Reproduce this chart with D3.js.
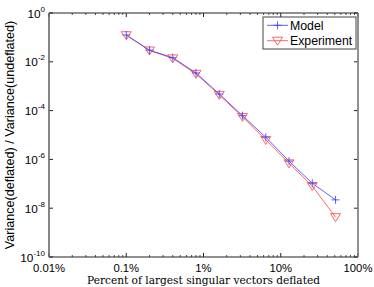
<!DOCTYPE html>
<html>
<head>
<meta charset="utf-8">
<script src="https://cdn.jsdelivr.net/npm/d3@7"></script>
<style>
  body { margin: 0; background: white; }
  svg { display: block; }
</style>
</head>
<body>
<div id="container"></div>
<script>
// fraction of singular vectors deflated (0.1% .. 51.2%)
const fractions = [0.001, 0.002, 0.004, 0.008, 0.016, 0.032, 0.064, 0.128, 0.256, 0.512]
const model = [0.126, 0.030, 0.0148, 3.5e-3, 4.8e-4, 6.2e-5, 8.1e-6, 8.5e-7, 1.05e-7, 2.2e-8]
const experiment = [0.123, 0.029, 0.0138, 3.2e-3, 4.4e-4, 5.5e-5, 6.3e-6, 6.9e-7, 8.1e-8, 4.3e-9]
const xTicks = [1e-4, 1e-3, 1e-2, 1e-1, 1]
const xTickLabels = ["0.01%", "0.1%", "1%", "10%", "100%"]
const yTicks = [1, 1e-2, 1e-4, 1e-6, 1e-8, 1e-10]
const yTickExps = ["0", "-2", "-4", "-6", "-8", "-10"]

const w = 374
const h = 287
const m = { left: 49, right: 16, top: 13, bottom: 30 }

const svg = d3.select("#container")
    .append("svg")
    .attr("width", w)
    .attr("height", h)
    .style("font-family", "'Liberation Sans', Arial, sans-serif")

const xScale = d3.scaleLog()
    .domain([1e-4, 1])
    .range([m.left, w - m.right])
const yScale = d3.scaleLog()
    .domain([1e-10, 1])
    .range([h - m.bottom, m.top])

// minor ticks for x (2..9 in each decade)
const xMinor = []
for (let e = -4; e < 0; e++) {
    for (let k = 2; k <= 9; k++) xMinor.push(k * Math.pow(10, e))
}

const x0 = xScale.range()[0], x1 = xScale.range()[1]
const y0 = yScale.range()[0], y1 = yScale.range()[1]

const axes = svg.append("g").attr("stroke", "#222").attr("fill", "none")
// ticks bottom & top
xTicks.forEach((t) => {
    axes.append("line").attr("x1", xScale(t)).attr("x2", xScale(t)).attr("y1", y0).attr("y2", y0 - 4)
    axes.append("line").attr("x1", xScale(t)).attr("x2", xScale(t)).attr("y1", y1).attr("y2", y1 + 4)
})
xMinor.forEach((t) => {
    axes.append("line").attr("x1", xScale(t)).attr("x2", xScale(t)).attr("y1", y0).attr("y2", y0 - 2)
        .attr("stroke-width", 0.8)
    axes.append("line").attr("x1", xScale(t)).attr("x2", xScale(t)).attr("y1", y1).attr("y2", y1 + 2)
        .attr("stroke-width", 0.8)
})
yTicks.forEach((t) => {
    axes.append("line").attr("x1", x0).attr("x2", x0 + 4).attr("y1", yScale(t)).attr("y2", yScale(t))
    axes.append("line").attr("x1", x1).attr("x2", x1 - 4).attr("y1", yScale(t)).attr("y2", yScale(t))
})
// box
axes.append("line").attr("x1", x0).attr("x2", x1).attr("y1", y1).attr("y2", y1).attr("stroke-width", 1)
axes.append("line").attr("x1", x0).attr("x2", x1).attr("y1", y0).attr("y2", y0).attr("stroke-width", 1.2)
axes.append("line").attr("x1", x0).attr("x2", x0).attr("y1", y1).attr("y2", y0)
    .attr("stroke", "#666").attr("stroke-width", 1.6)
axes.append("line").attr("x1", x1).attr("x2", x1).attr("y1", y1).attr("y2", y0)
    .attr("stroke", "#777").attr("stroke-width", 1.6)

// tick labels
svg.append("g").selectAll("text")
    .data(xTicks)
    .enter()
    .append("text")
    .attr("x", (d) => xScale(d))
    .attr("y", y0 + 15)
    .attr("text-anchor", "middle")
    .style("font-size", "11.3px")
    .text((d, i) => xTickLabels[i])

const yl = svg.append("g").selectAll("text")
    .data(yTicks)
    .enter()
    .append("text")
    .attr("x", x0 - 4)
    .attr("y", (d) => yScale(d) + 4.5)
    .attr("text-anchor", "end")
    .style("font-size", "11.8px")
yl.append("tspan").text("10")
yl.append("tspan").attr("dy", -6).style("font-size", "8px").text((d, i) => yTickExps[i])

// axis titles
svg.append("text")
    .attr("x", (x0 + x1) / 2)
    .attr("y", h - 3.5)
    .attr("text-anchor", "middle")
    .style("font-family", "'DejaVu Serif', 'Liberation Serif', serif")
    .style("font-size", "10.6px")
    .text("Percent of largest singular vectors deflated")

svg.append("text")
    .attr("transform", `translate(14, ${(y0 + y1) / 2}) rotate(-90)`)
    .attr("text-anchor", "middle")
    .style("font-size", "12.6px")
    .text("Variance(deflated) / Variance(undeflated)")

// series
const line = d3.line()
    .x((d) => xScale(d[0]))
    .y((d) => yScale(d[1]))

const modelPts = fractions.map((f, i) => [f, model[i]])
const expPts = fractions.map((f, i) => [f, experiment[i]])

const blue = "#3a3aff"
const red = "#ff4040"

svg.append("path").datum(expPts).attr("d", line)
    .attr("fill", "none").attr("stroke", red).attr("stroke-width", 0.8)
svg.append("path").datum(modelPts).attr("d", line)
    .attr("fill", "none").attr("stroke", blue).attr("stroke-width", 0.8)

const tri = "M-5,-3.5 L5,-3.5 L0,4.5 Z"
svg.selectAll(".tri")
    .data(expPts)
    .enter()
    .append("path")
    .attr("class", "tri")
    .attr("transform", (d) => `translate(${xScale(d[0])},${yScale(d[1])})`)
    .attr("d", tri)
    .attr("fill", "none").attr("stroke", red).attr("stroke-width", 0.8)

const plus = "M-4,0 L4,0 M0,-4 L0,4"
svg.selectAll(".plus")
    .data(modelPts)
    .enter()
    .append("path")
    .attr("class", "plus")
    .attr("transform", (d) => `translate(${xScale(d[0])},${yScale(d[1])})`)
    .attr("d", plus)
    .attr("fill", "none").attr("stroke", blue).attr("stroke-width", 0.8)

// legend
const lg = svg.append("g").attr("transform", "translate(263, 17)")
lg.append("rect").attr("x", 0).attr("y", 0).attr("width", 93).attr("height", 32)
    .attr("fill", "white").attr("stroke", "#444").attr("stroke-width", 1)
lg.append("line").attr("x1", 4).attr("x2", 25).attr("y1", 8.3).attr("y2", 8.3)
    .attr("stroke", blue).attr("stroke-width", 0.8)
lg.append("path").attr("transform", "translate(14.5,8.3)").attr("d", plus)
    .attr("fill", "none").attr("stroke", blue).attr("stroke-width", 0.8)
lg.append("text").attr("x", 27).attr("y", 12.8).style("font-size", "12.3px").text("Model")
lg.append("line").attr("x1", 4).attr("x2", 25).attr("y1", 23.7).attr("y2", 23.7)
    .attr("stroke", red).attr("stroke-width", 0.8)
lg.append("path").attr("transform", "translate(14.5,23.7)").attr("d", tri)
    .attr("fill", "none").attr("stroke", red).attr("stroke-width", 0.8)
lg.append("text").attr("x", 27).attr("y", 27.8).style("font-size", "12.3px").text("Experiment")
</script>
</body>
</html>
